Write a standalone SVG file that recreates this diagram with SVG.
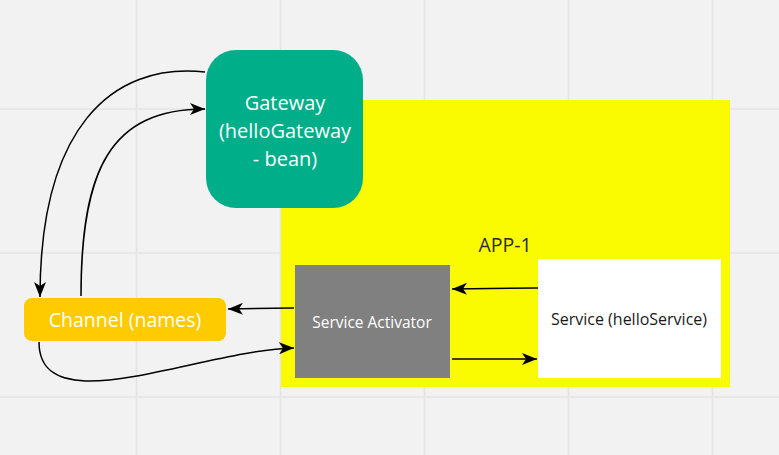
<svg xmlns="http://www.w3.org/2000/svg" width="779" height="455" viewBox="0 0 779 455">
<defs>
<style>
.grid{stroke:#e4e4e4;stroke-width:1.5}
.conn{fill:none;stroke:#000;stroke-width:1.5}
.t{font-family:"Open Sans","Noto Sans",sans-serif;text-anchor:middle;dominant-baseline:central}
</style>
<marker id="ah" markerUnits="userSpaceOnUse" markerWidth="16" markerHeight="12" refX="15" refY="6" orient="auto">
<path d="M0,0 L15,6 L0,12 L4,6 Z" fill="#000"/>
</marker>
</defs>
<rect width="779" height="455" fill="#f2f2f2"/>
<g id="grid">
<line class="grid" x1="136.5" y1="0" x2="136.5" y2="455"/>
<line class="grid" x1="280.5" y1="0" x2="280.5" y2="455"/>
<line class="grid" x1="424.5" y1="0" x2="424.5" y2="455"/>
<line class="grid" x1="568.5" y1="0" x2="568.5" y2="455"/>
<line class="grid" x1="712.5" y1="0" x2="712.5" y2="455"/>
<line class="grid" x1="0" y1="109" x2="779" y2="109"/>
<line class="grid" x1="0" y1="253" x2="779" y2="253"/>
<line class="grid" x1="0" y1="397" x2="779" y2="397"/>
</g>
<g id="app1">
<rect x="281" y="100" width="449" height="287" fill="#fafa00"/>
<text class="t" x="505" y="244" font-size="19.5" fill="#2b2b2b">APP-1</text>
</g>
<g id="gateway">
<rect x="206" y="50" width="157" height="158" rx="30" fill="#00ae8a"/>
<text class="t" x="285" y="102" font-size="20" fill="#fff">Gateway</text>
<text class="t" x="285" y="130" font-size="20" fill="#fff">(helloGateway</text>
<text class="t" x="285" y="158" font-size="20" fill="#fff">- bean)</text>
</g>
<g id="channel">
<rect x="24" y="298" width="202" height="43" rx="8" fill="#fecb00"/>
<text class="t" x="125" y="319" font-size="19.5" fill="#fff">Channel (names)</text>
</g>
<g id="activator">
<rect x="295" y="265" width="155" height="113" fill="#808080"/>
<text class="t" x="372" y="322" font-size="15.5" fill="#fff">Service Activator</text>
</g>
<g id="service">
<rect x="538" y="259" width="183" height="119" fill="#fff"/>
<text class="t" x="629" y="319" font-size="16" fill="#1a1a1a">Service (helloService)</text>
</g>
<g id="connectors">
<path class="conn" d="M205,72 C110,62 40,130 40,297" marker-end="url(#ah)"/>
<path class="conn" d="M81,296 C81,170 110,109 205,109" marker-end="url(#ah)"/>
<path class="conn" d="M294,308 L228,309" marker-end="url(#ah)"/>
<path class="conn" d="M39,342 C39,425 200,350 294,348" marker-end="url(#ah)"/>
<path class="conn" d="M538,288 L452,289" marker-end="url(#ah)"/>
<path class="conn" d="M452,359 L537,359" marker-end="url(#ah)"/>
</g>
</svg>
